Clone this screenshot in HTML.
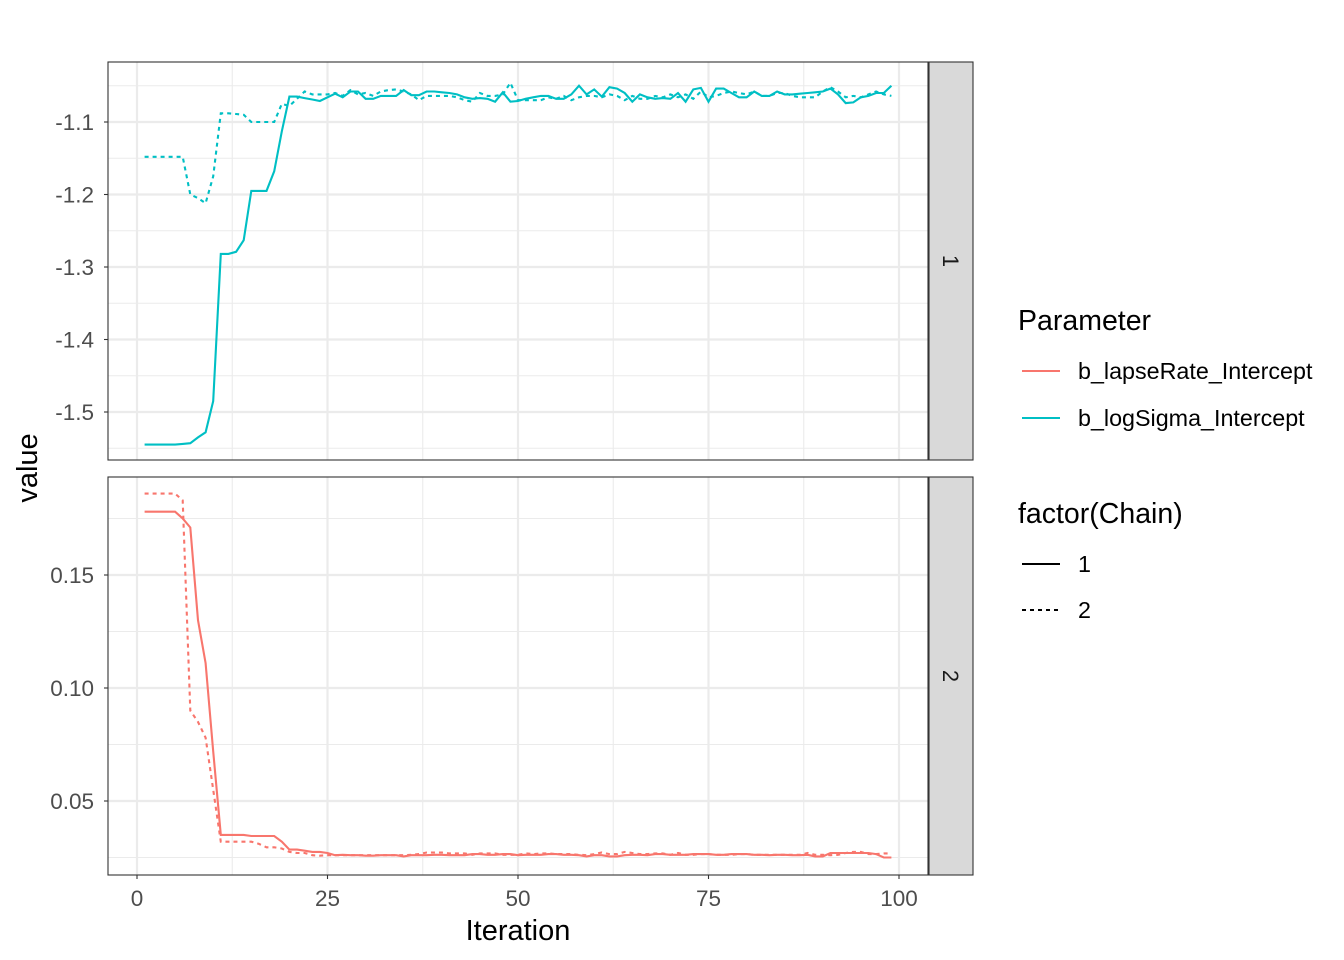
<!DOCTYPE html>
<html><head><meta charset="utf-8"><style>
html,body{margin:0;background:#fff;overflow:hidden;width:1344px;height:960px}
svg{display:block}
svg text{font-family:"Liberation Sans",Arial,sans-serif}
</style></head><body>
<div style="position:relative;width:1344px;height:960px">
<svg id="c" width="1344" height="960" xmlns="http://www.w3.org/2000/svg" style="position:absolute;left:0;top:0"></svg>
<svg width="1344" height="960" xmlns="http://www.w3.org/2000/svg" style="position:absolute;left:0;top:0;font-family:'Liberation Sans',Arial,sans-serif">
<text x="518" y="940" text-anchor="middle" font-size="29" fill="#000">Iteration</text>
<text x="37" y="468" text-anchor="middle" font-size="29" fill="#000" transform="rotate(-90 37 468)">value</text>
<g>
<text x="1018" y="330" font-size="28.5" fill="#000">Parameter</text>
<line x1="1022" x2="1060" y1="371" y2="371" stroke="#F8766D" stroke-width="2.1"/>
<text x="1078" y="379" font-size="23.3" fill="#000">b_lapseRate_Intercept</text>
<line x1="1022" x2="1060" y1="418" y2="418" stroke="#00BFC4" stroke-width="2.1"/>
<text x="1078" y="426" font-size="23.3" fill="#000">b_logSigma_Intercept</text>
</g>
<g>
<text x="1018" y="523" font-size="28.5" fill="#000">factor(Chain)</text>
<line x1="1022" x2="1060" y1="564" y2="564" stroke="#000" stroke-width="2.1"/>
<text x="1078" y="572" font-size="23.3" fill="#000">1</text>
<line x1="1022" x2="1060" y1="610" y2="610" stroke="#000" stroke-width="2.1" stroke-dasharray="4 4"/>
<text x="1078" y="618" font-size="23.3" fill="#000">2</text>
</g>
</svg>
</div>
<script>
const iterations = Array.from({length:99},(_,i)=>i+1);
const logSigmaChain1 = [-1.545,-1.545,-1.545,-1.545,-1.545,-1.544,-1.543,-1.535,-1.528,-1.485,-1.282,-1.282,-1.279,-1.263,-1.195,-1.195,-1.195,-1.168,-1.113,-1.065,-1.065,-1.067,-1.069,-1.071,-1.066,-1.061,-1.066,-1.058,-1.058,-1.068,-1.068,-1.064,-1.064,-1.064,-1.056,-1.063,-1.063,-1.058,-1.058,-1.059,-1.060,-1.062,-1.066,-1.068,-1.067,-1.068,-1.072,-1.059,-1.072,-1.071,-1.068,-1.066,-1.064,-1.064,-1.068,-1.068,-1.062,-1.050,-1.062,-1.055,-1.065,-1.052,-1.054,-1.060,-1.072,-1.062,-1.066,-1.068,-1.067,-1.068,-1.060,-1.072,-1.055,-1.053,-1.072,-1.054,-1.054,-1.060,-1.066,-1.066,-1.058,-1.064,-1.064,-1.058,-1.062,-1.062,-1.061,-1.060,-1.059,-1.058,-1.054,-1.062,-1.074,-1.073,-1.066,-1.064,-1.060,-1.060,-1.050];
const logSigmaChain2 = [-1.148,-1.148,-1.148,-1.148,-1.148,-1.148,-1.200,-1.205,-1.212,-1.175,-1.088,-1.088,-1.089,-1.090,-1.100,-1.100,-1.100,-1.100,-1.075,-1.078,-1.068,-1.058,-1.062,-1.062,-1.062,-1.060,-1.064,-1.056,-1.062,-1.060,-1.064,-1.058,-1.056,-1.055,-1.058,-1.062,-1.070,-1.064,-1.064,-1.064,-1.064,-1.066,-1.070,-1.072,-1.060,-1.064,-1.064,-1.062,-1.046,-1.070,-1.070,-1.070,-1.070,-1.066,-1.068,-1.064,-1.070,-1.066,-1.064,-1.064,-1.066,-1.062,-1.064,-1.070,-1.064,-1.068,-1.068,-1.064,-1.066,-1.062,-1.066,-1.062,-1.068,-1.058,-1.066,-1.064,-1.060,-1.058,-1.060,-1.062,-1.058,-1.064,-1.064,-1.060,-1.060,-1.064,-1.066,-1.066,-1.066,-1.058,-1.052,-1.058,-1.066,-1.064,-1.066,-1.062,-1.058,-1.062,-1.064];
const lapseChain1 = [0.178,0.178,0.178,0.178,0.178,0.175,0.171,0.130,0.111,0.072,0.035,0.035,0.035,0.035,0.0345,0.0345,0.0345,0.0345,0.032,0.0285,0.0285,0.028,0.0275,0.0275,0.027,0.026,0.0262,0.026,0.026,0.0258,0.0258,0.026,0.026,0.026,0.0255,0.026,0.026,0.026,0.0262,0.0262,0.026,0.026,0.026,0.0265,0.0265,0.0262,0.0262,0.0265,0.0265,0.026,0.0262,0.0262,0.0262,0.0265,0.0265,0.0262,0.0262,0.026,0.0255,0.026,0.026,0.0255,0.0255,0.026,0.0262,0.0262,0.026,0.0265,0.0265,0.0262,0.0262,0.0262,0.0265,0.0265,0.0265,0.0262,0.0262,0.0265,0.0265,0.0265,0.0262,0.0262,0.026,0.0262,0.0262,0.026,0.026,0.0262,0.0255,0.0255,0.027,0.027,0.027,0.027,0.027,0.027,0.0265,0.025,0.025];
const lapseChain2 = [0.186,0.186,0.186,0.186,0.186,0.183,0.090,0.085,0.078,0.055,0.032,0.032,0.032,0.032,0.032,0.031,0.0295,0.0295,0.029,0.0275,0.027,0.027,0.026,0.0258,0.026,0.026,0.026,0.026,0.026,0.026,0.026,0.026,0.026,0.026,0.026,0.0262,0.0265,0.0272,0.0272,0.0272,0.0268,0.0268,0.0268,0.0262,0.0268,0.0268,0.0268,0.0262,0.0262,0.0262,0.0268,0.0265,0.0268,0.0268,0.0265,0.0265,0.0265,0.0262,0.026,0.0265,0.0272,0.0265,0.0265,0.0275,0.027,0.0265,0.0265,0.0268,0.0268,0.0262,0.027,0.0262,0.0262,0.0265,0.0265,0.0262,0.0262,0.0262,0.0265,0.0265,0.0262,0.0262,0.0262,0.0262,0.0262,0.0262,0.0262,0.027,0.0262,0.0262,0.026,0.0262,0.027,0.0275,0.0275,0.0265,0.0265,0.0268,0.0268];
const xTicks = [0,25,50,75,100];
const yTicks1 = [-1.1,-1.2,-1.3,-1.4,-1.5];
const yTicks2 = [0.15,0.10,0.05];

const NS="http://www.w3.org/2000/svg";
const svg=document.getElementById('c');
function el(t,a,p){const e=document.createElementNS(NS,t);for(const k in a)e.setAttribute(k,a[k]);(p||svg).appendChild(e);return e;}
const L=108,R=928;
const xs=v=>137+(v)*7.62;
const ys1=v=>122+(-1.1-v)*725;
const ys2=v=>575+(0.15-v)*2260;
const panels=[{top:62,bot:460,ys:ys1,ticks:yTicks1,minor:[-1.05,-1.15,-1.25,-1.35,-1.45,-1.55],fmt:v=>v.toFixed(1),strip:'1',name:'panel-logsigma'},
{top:477,bot:875,ys:ys2,ticks:yTicks2,minor:[0.175,0.125,0.075,0.025],fmt:v=>v.toFixed(2),strip:'2',name:'panel-lapserate'}];
panels.forEach(p=>{
  const g=el('g',{});
  
  
  el('rect',{x:L,y:p.top,width:R-L,height:p.bot-p.top,fill:'#fff'},g);
  p.minor.forEach(v=>{const y=p.ys(v);if(y>p.top&&y<p.bot)el('line',{x1:L,x2:R,y1:y,y2:y,stroke:'#EBEBEB','stroke-width':1.1},g);});
  [12.5,37.5,62.5,87.5].forEach(v=>el('line',{x1:xs(v),x2:xs(v),y1:p.top,y2:p.bot,stroke:'#EBEBEB','stroke-width':1.1},g));
  p.ticks.forEach(v=>{const y=p.ys(v);el('line',{x1:L,x2:R,y1:y,y2:y,stroke:'#EBEBEB','stroke-width':2.2},g);
    el('line',{x1:L-4,x2:L,y1:y,y2:y,stroke:'#333','stroke-width':1.1},g);
    const t=el('text',{x:L-14,y:y+8,'text-anchor':'end','font-size':22.5,fill:'#4D4D4D'},g);t.textContent=p.fmt(v);
    });
  xTicks.forEach(v=>el('line',{x1:xs(v),x2:xs(v),y1:p.top,y2:p.bot,stroke:'#EBEBEB','stroke-width':2.2},g));
  const s=el('rect',{x:929,y:p.top,width:44,height:p.bot-p.top,fill:'#D9D9D9',stroke:'#333','stroke-width':1.1});
  
  const st=el('text',{x:951,y:(p.top+p.bot)/2,'text-anchor':'middle','font-size':22,fill:'#1A1A1A',transform:`rotate(90 951 ${(p.top+p.bot)/2}) translate(0 8)`});st.textContent=p.strip;
  
});
function line(arr,ys,color,dash,name){
  const d=arr.map((v,i)=>(i?'L':'M')+xs(iterations[i]).toFixed(1)+' '+ys(v).toFixed(1)).join(' ');
  const p=el('path',{d:d,fill:'none',stroke:color,'stroke-width':2.1,'stroke-dasharray':dash?'4 4':'none'});
  
}
line(logSigmaChain1,ys1,'#00BFC4',false,'logsigma-chain1');
line(logSigmaChain2,ys1,'#00BFC4',true,'logsigma-chain2');
line(lapseChain1,ys2,'#F8766D',false,'lapserate-chain1');
line(lapseChain2,ys2,'#F8766D',true,'lapserate-chain2');
panels.forEach(p=>el('rect',{x:L,y:p.top,width:R-L,height:p.bot-p.top,fill:'none',stroke:'#333','stroke-width':1.1}));
xTicks.forEach(v=>{el('line',{x1:xs(v),x2:xs(v),y1:875,y2:879,stroke:'#333','stroke-width':1.1});
  const t=el('text',{x:xs(v),y:906,'text-anchor':'middle','font-size':22.5,fill:'#4D4D4D'});t.textContent=v;
  });
</script>
</body></html>
